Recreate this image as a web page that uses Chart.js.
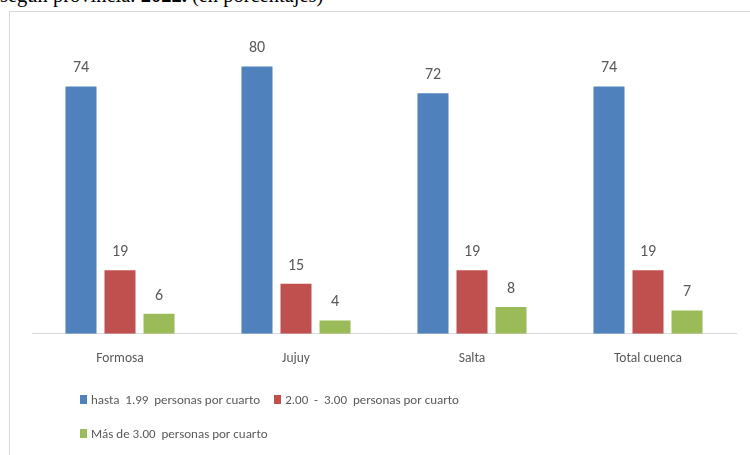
<!DOCTYPE html>
<html>
<head>
<meta charset="utf-8">
<script src="https://cdn.jsdelivr.net/npm/chart.js@4.4.1/dist/chart.umd.min.js"></script>
<style>
  html, body { margin: 0; padding: 0; background: #ffffff; }
  #wrap { position: relative; width: 750px; height: 455px; overflow: hidden; background: #fff; }
  #title { position: absolute; left: 0; top: -16px; font-family: "Liberation Serif", "Times New Roman", serif; font-size: 20.5px; color: #000; white-space: nowrap; }
  #frame { position: absolute; left: 9px; top: 11px; width: 800px; height: 500px; border: 1px solid #d9d9d9; box-sizing: border-box; }
  #chartBox { position: absolute; left: 0; top: 0; width: 750px; height: 455px; }
  #legend { position: absolute; left: 80px; top: 382px; font-family: Carlito, Lato, "Open Sans", sans-serif; font-size: 13px; color: #595959; }
  .row { height: 34px; white-space: pre; display: flex; align-items: center; }
  .item { display: inline-flex; align-items: center; margin-right: 14px; }
  .sw { display: inline-block; width: 7px; height: 9px; margin-right: 4px; }
</style>
</head>
<body>
<div id="wrap">
  <div id="title">según provincia. <b>2022.</b> (en porcentajes)</div>
  <div id="frame"></div>
  <div id="chartBox"><canvas id="c" width="750" height="455"></canvas></div>
  <div id="legend"></div>
</div>
<script>
const categories = ["Formosa", "Jujuy", "Salta", "Total cuenca"];
const seriesNames = ["hasta  1.99  personas por cuarto", "2.00  -  3.00  personas por cuarto", "Más de 3.00  personas por cuarto"];
const hasta199 = [74, 80, 72, 74];
const de2a3 = [19, 15, 19, 19];
const masDe3 = [6, 4, 8, 7];
const colors = ["#4F81BD", "#C0504D", "#9BBB59"];
const legendRows = [[0, 1], [2]];

const valueLabels = {
  id: "valueLabels",
  afterDatasetsDraw(chart) {
    const ctx = chart.ctx;
    ctx.save();
    ctx.font = "16px Carlito, Lato, 'Open Sans', sans-serif";
    ctx.fillStyle = "#595959";
    ctx.textAlign = "center";
    ctx.textBaseline = "alphabetic";
    chart.data.datasets.forEach((ds, i) => {
      chart.getDatasetMeta(i).data.forEach((bar, j) => {
        ctx.fillText(String(ds.data[j]), bar.x, bar.y - 14);
      });
    });
    ctx.restore();
  }
};

const seriesData = [hasta199, de2a3, masDe3];
new Chart(document.getElementById("c"), {
  type: "bar",
  data: {
    labels: categories,
    datasets: seriesData.map((d, i) => ({
      label: seriesNames[i],
      data: d,
      backgroundColor: colors[i],
      borderWidth: 0,
      categoryPercentage: 0.665,
      barPercentage: 0.795
    }))
  },
  options: {
    responsive: false,
    animation: false,
    devicePixelRatio: 1,
    layout: { padding: { left: 32, right: 14, top: 33, bottom: 71 } },
    plugins: { legend: { display: false }, tooltip: { enabled: false } },
    scales: {
      x: {
        grid: { display: false, drawTicks: false },
        border: { display: true, color: "#d9d9d9", width: 1 },
        ticks: { padding: 17, color: "#595959", font: { size: 13.5, family: "Carlito, Lato, 'Open Sans', sans-serif" } }
      },
      y: {
        display: false,
        min: 0,
        max: 90
      }
    }
  },
  plugins: [valueLabels]
});

const legend = document.getElementById("legend");
legendRows.forEach(r => {
  const row = document.createElement("div");
  row.className = "row";
  r.forEach(i => {
    const it = document.createElement("span");
    it.className = "item";
    const sw = document.createElement("span");
    sw.className = "sw";
    sw.style.background = colors[i];
    it.appendChild(sw);
    it.appendChild(document.createTextNode(seriesNames[i]));
    row.appendChild(it);
  });
  legend.appendChild(row);
});
</script>
</body>
</html>
